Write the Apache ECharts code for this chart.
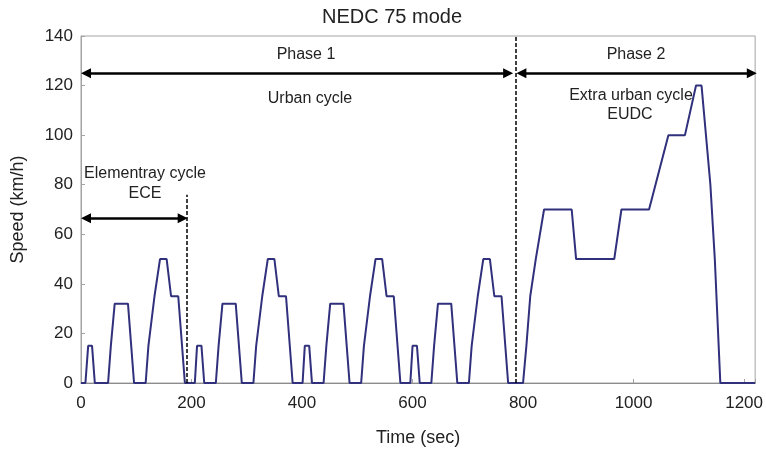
<!DOCTYPE html>
<html>
<head>
<meta charset="utf-8">
<script src="https://cdn.jsdelivr.net/npm/echarts@6/dist/echarts.min.js"></script>
<style>
  html, body { margin: 0; padding: 0; background: #fff; }
  #chart { width: 766px; height: 452px; }
</style>
</head>
<body>
<div id="chart"></div>
<script>
// NEDC drive cycle: time (s) and vehicle speed (km/h) breakpoints
const timeSec = [
  0, 8, 13, 20, 25, 49, 54, 56, 61, 85, 96, 117, 122, 124, 133, 135, 143, 155, 163, 176, 188,
  195, 206, 210, 218, 223, 244, 249, 251, 256, 280, 291, 312, 317, 319, 328, 330, 338, 350, 358, 371, 383,
  390, 401, 405, 413, 418, 439, 444, 446, 451, 475, 486, 507, 512, 514, 523, 525, 533, 545, 553, 566, 578,
  585, 596, 600, 608, 613, 634, 639, 641, 646, 670, 681, 702, 707, 709, 718, 720, 728, 740, 748, 761, 773,
  780, 800, 806, 808, 813, 815, 823, 825, 838, 888, 896, 965, 978, 1028, 1063, 1093, 1113, 1123, 1139, 1147, 1157, 1220
];
const speedKmh = [
  0, 0, 15, 15, 0, 0, 15, 15, 32, 32, 0, 0, 15, 15, 35, 35, 50, 50, 35, 35, 0,
  0, 0, 15, 15, 0, 0, 15, 15, 32, 32, 0, 0, 15, 15, 35, 35, 50, 50, 35, 35, 0,
  0, 0, 15, 15, 0, 0, 15, 15, 32, 32, 0, 0, 15, 15, 35, 35, 50, 50, 35, 35, 0,
  0, 0, 15, 15, 0, 0, 15, 15, 32, 32, 0, 0, 15, 15, 35, 35, 50, 50, 35, 35, 0,
  0, 0, 15, 15, 35, 35, 50, 50, 70, 70, 50, 50, 70, 70, 100, 100, 120, 120, 80, 50, 0, 0
];

// Axis ranges and ticks
const xTicks = [0, 200, 400, 600, 800, 1000, 1200];
const yTicks = [0, 20, 40, 60, 80, 100, 120, 140];
const xMax = 1220;

// Phase / sub-cycle boundaries (s) and heights of the span arrows (km/h)
const eceEnd = 191;
const eceBoundaryTop = 76;
const phase1End = 786;
const phaseArrowSpeed = 125;
const eceArrowSpeed = 66.5;

const points = timeSec.map((t, i) => [t, speedKmh[i]]);

const FONT = '"Liberation Sans", Arial, Helvetica, sans-serif';
const TEXT = '#222';
const FRAME = '#a3a3a3';

// arrowheads are centred on their end point; pull the ends in so the tips land on the boundaries
const HEAD = 10;
const headInset = 9;

const chart = echarts.init(document.getElementById('chart'), null, { renderer: 'canvas' });

const arrowStyle = { color: '#000', width: 2.5, type: 'solid' };
const dashStyle = { color: '#000', width: 1.5, type: [4, 2] };

function span(from, to, speed) {
  return [
    { coord: [from + headInset, speed], symbol: 'triangle', symbolSize: HEAD, lineStyle: arrowStyle },
    { coord: [to - headInset, speed], symbol: 'triangle', symbolSize: HEAD }
  ];
}

chart.setOption({
  animation: false,
  backgroundColor: '#fff',
  grid: {
    left: 81, right: 8, top: 36, bottom: 66,
    show: true, borderColor: FRAME, borderWidth: 1, backgroundColor: 'transparent'
  },
  xAxis: {
    type: 'value',
    min: xTicks[0],
    max: xMax,
    interval: xTicks[1] - xTicks[0],
    name: 'Time (sec)',
    nameLocation: 'middle',
    nameGap: 46,
    nameTextStyle: { fontFamily: FONT, fontSize: 18, color: TEXT },
    axisLine: { show: true, lineStyle: { color: '#8c8c8c', width: 1.2 } },
    axisTick: { show: true, inside: true, length: 4, lineStyle: { color: FRAME } },
    axisLabel: {
      fontFamily: FONT, fontSize: 17, color: TEXT, margin: 12,
      formatter: v => (xTicks.indexOf(v) >= 0 ? String(v) : '')
    },
    splitLine: { show: false }
  },
  yAxis: {
    type: 'value',
    min: yTicks[0],
    max: yTicks[yTicks.length - 1],
    interval: yTicks[1] - yTicks[0],
    name: 'Speed (km/h)',
    nameLocation: 'middle',
    nameGap: 54,
    nameTextStyle: { fontFamily: FONT, fontSize: 18, color: TEXT },
    axisLine: { show: true, lineStyle: { color: FRAME, width: 1 } },
    axisTick: { show: true, inside: true, length: 4, lineStyle: { color: FRAME } },
    axisLabel: { fontFamily: FONT, fontSize: 17, color: TEXT, margin: 8 },
    splitLine: { show: false }
  },
  series: [
    {
      type: 'line',
      data: points,
      symbol: 'none',
      lineStyle: { color: '#30307c', width: 2 },
      clip: true,
      z: 2
    },
    {
      // boundary lines and span arrows
      type: 'line',
      data: [],
      silent: true,
      z: 3,
      markLine: {
        silent: true,
        animation: false,
        label: { show: false },
        emphasis: { disabled: true },
        data: [
          [
            { coord: [eceEnd, 0], symbol: 'none', lineStyle: dashStyle },
            { coord: [eceEnd, eceBoundaryTop], symbol: 'none' }
          ],
          [
            { coord: [phase1End, 0], symbol: 'none', lineStyle: dashStyle },
            { coord: [phase1End, yTicks[yTicks.length - 1]], symbol: 'none' }
          ],
          span(xTicks[0], phase1End - 4, phaseArrowSpeed),
          span(phase1End + 2, xMax + 3, phaseArrowSpeed),
          span(xTicks[0], eceEnd + 2, eceArrowSpeed)
        ]
      }
    }
  ],
  graphic: [
    { type: 'text', x: 392, y: 17, style: { text: 'NEDC 75 mode', font: '20px ' + FONT, fill: TEXT, align: 'center', verticalAlign: 'middle' } },
    { type: 'text', x: 306, y: 55, style: { text: 'Phase 1', font: '16px ' + FONT, fill: TEXT, align: 'center', verticalAlign: 'middle' } },
    { type: 'text', x: 636, y: 55, style: { text: 'Phase 2', font: '16px ' + FONT, fill: TEXT, align: 'center', verticalAlign: 'middle' } },
    { type: 'text', x: 310, y: 99, style: { text: 'Urban cycle', font: '16px ' + FONT, fill: TEXT, align: 'center', verticalAlign: 'middle' } },
    { type: 'text', x: 145, y: 174, style: { text: 'Elementray cycle', font: '16px ' + FONT, fill: TEXT, align: 'center', verticalAlign: 'middle' } },
    { type: 'text', x: 145, y: 194, style: { text: 'ECE', font: '16px ' + FONT, fill: TEXT, align: 'center', verticalAlign: 'middle' } },
    { type: 'text', x: 631, y: 96, style: { text: 'Extra urban cycle', font: '16px ' + FONT, fill: TEXT, align: 'center', verticalAlign: 'middle' } },
    { type: 'text', x: 630, y: 115, style: { text: 'EUDC', font: '16px ' + FONT, fill: TEXT, align: 'center', verticalAlign: 'middle' } }
  ]
});
</script>
</body>
</html>
